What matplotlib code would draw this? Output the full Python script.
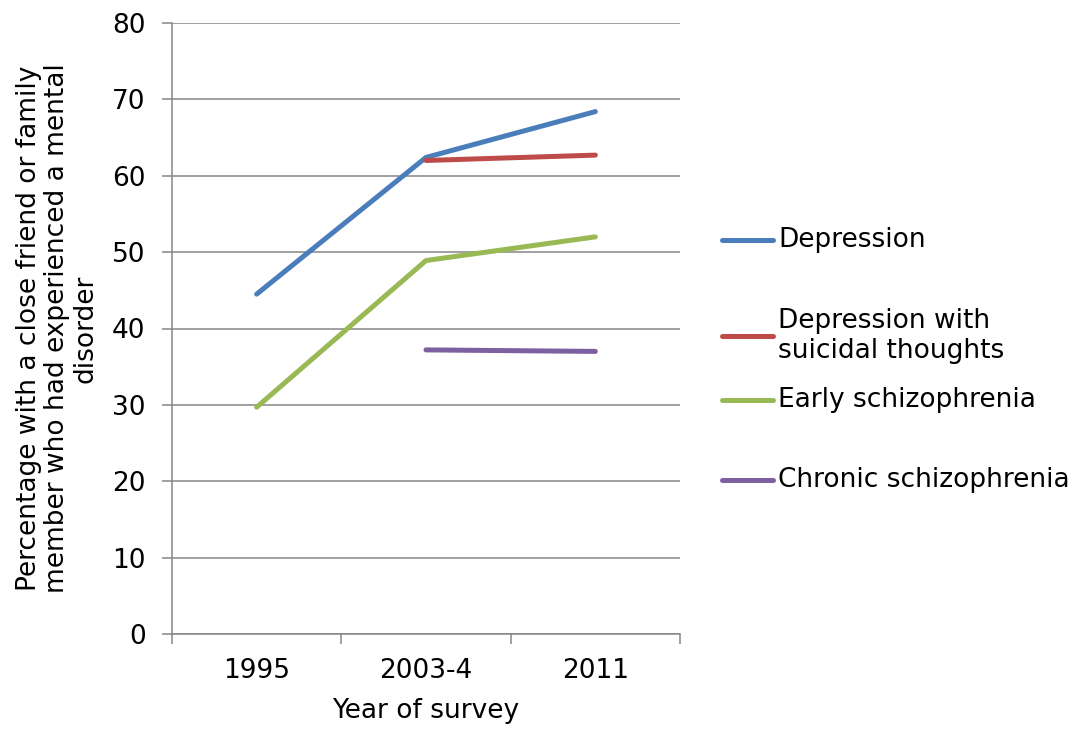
import matplotlib
matplotlib.use("Agg")
import matplotlib.pyplot as plt
from matplotlib.lines import Line2D
import numpy as np

# Survey data
years = ["1995", "2003-4", "2011"]
depression = [44.5, 62.4, 68.4]
depression_suicidal = [None, 62.0, 62.7]
early_schizophrenia = [29.7, 48.9, 52.0]
chronic_schizophrenia = [None, 37.2, 37.0]

series_names = ["Depression", "Depression with\nsuicidal thoughts",
                "Early schizophrenia", "Chronic schizophrenia"]
series_values = [depression, depression_suicidal, early_schizophrenia,
                 chronic_schizophrenia]
colors = ["#4A7EBB", "#BE4B48", "#98B954", "#7D60A0"]

plt.rcParams["font.family"] = ["DejaVu Sans"]
FS = 19
GRID = "#868686"
LW = 3.6

W, H = 1079, 729
fig = plt.figure(figsize=(W / 100, H / 100), dpi=100)
ax = fig.add_axes([172 / W, 1 - 634 / H, (680 - 172) / W, (634 - 23) / H])

x = np.arange(len(years))
for vals, c in zip(series_values, colors):
    arr = np.array([np.nan if v is None else v for v in vals], dtype=float)
    ax.plot(x, arr, color=c, lw=LW, solid_capstyle="round",
            solid_joinstyle="round", zorder=3)

ax.set_xlim(-0.5, len(years) - 0.5)
ax.set_ylim(0, 80)
ax.set_yticks(np.arange(0, 81, 10))
ax.yaxis.grid(True, color=GRID, lw=1.1)
ax.set_axisbelow(True)

ax.set_xticks(x)
ax.set_xticklabels(years, fontsize=FS)
ax.set_xticks(np.arange(-0.5, len(years), 1.0), minor=True)
ax.tick_params(axis="x", which="major", length=0, pad=17)
ax.tick_params(axis="x", which="minor", length=7, color=GRID, width=1.1)
ax.tick_params(axis="y", length=7, color=GRID, width=1.1, labelsize=FS, pad=12)

for s in ["top", "right"]:
    ax.spines[s].set_visible(False)
for s in ["left", "bottom"]:
    ax.spines[s].set_color(GRID)
    ax.spines[s].set_linewidth(1.1)

ax.set_xlabel("Year of survey", fontsize=FS, va="center")
ax.xaxis.set_label_coords(0.5, (634 - 711) / 611)
ax.set_ylabel("Percentage with a close friend or family\n"
              "member who had experienced a mental\ndisorder",
              fontsize=FS, linespacing=1.12, va="center")
ax.yaxis.set_label_coords((57 - 172) / 508, 0.5)

# Legend drawn beside the plot
legend_y = [240, 336, 400, 480]
for name, c, yy in zip(series_names, colors, legend_y):
    yf = 1 - yy / H
    fig.add_artist(Line2D([722 / W, 773 / W], [yf, yf], color=c, lw=LW,
                          solid_capstyle="round", transform=fig.transFigure))
    fig.text(778 / W, yf, name, fontsize=FS, va="center", ha="left",
             linespacing=1.2)

fig.savefig("out.png", dpi=100)
